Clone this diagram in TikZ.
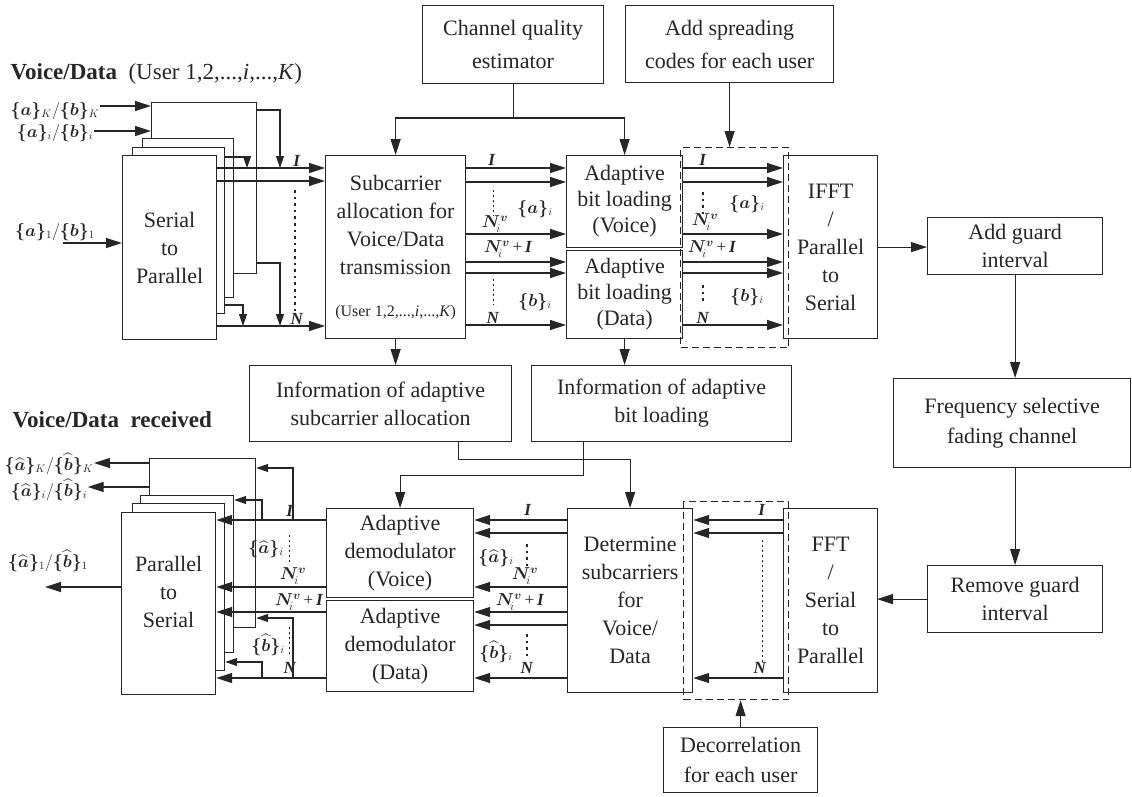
\documentclass[tikz,border=0pt]{standalone}
\usepackage{fontspec}
\setmainfont{Liberation Serif}
\usepackage{amsmath,bm}
\usetikzlibrary{arrows.meta}
\newcommand\bi[1]{\textbf{\textit{#1}}}
\newcommand\lAB[1]{$\bm{\{a\}}_{#1}/\bm{\{b\}}_{#1}$}
\newcommand\lHH[1]{$\bm{\{\widehat{a}\}}_{#1}/\bm{\{\widehat{b}\}}_{#1}$}
\newcommand\Nvi{$\bm{N}_{\!i}^{\bm{v}}$}
\newcommand\Nvp{$\bm{N}_{\!i}^{\bm{v}}$\,+\,\bi{I}}
\newcommand\la{$\bm{\{a\}}_i$}
\newcommand\lb{$\bm{\{b\}}_i$}
\newcommand\lha{$\bm{\{\widehat{a}\}}_i$}
\newcommand\lhb{$\bm{\{\widehat{b}\}}_i$}
\begin{document}
\begin{tikzpicture}[x=1pt,y=-1pt,line width=1.2pt,black!85,
  box/.style={draw, fill=white, anchor=north west, inner sep=0pt, align=center, font=\fontsize{22}{28}\selectfont},
  wh/.style 2 args={minimum width=#1pt, minimum height=#2pt},
  dbox/.style={draw, dash pattern=on 7pt off 4pt, anchor=north west, inner sep=0pt},
  arr/.style={-{Triangle[length=16pt,width=10pt]}},
  sarr/.style={-{Triangle[length=12pt,width=8pt]}},
  lab/.style={font=\fontsize{17}{19}\selectfont, inner sep=0pt},
  slab/.style={font=\fontsize{16}{18}\selectfont, inner sep=0pt},
  thdots/.style={line width=2.6pt, dash pattern=on 2.6pt off 4pt},
  fdots/.style={line width=1pt, dash pattern=on 2pt off 3pt}]
\useasboundingbox (0,0) rectangle (1132,796);

% ---------- top row ----------
\node[box,wh={181}{78},font=\fontsize{22}{33}\selectfont] (cqe) at (422,5) {Channel quality\\estimator};
\node[box,wh={208}{77},font=\fontsize{22}{33}\selectfont] (asc) at (625,5) {Add spreading\\codes for each user};
\node[anchor=base west, inner sep=0pt, font=\fontsize{23}{26}\selectfont] (t1) at (10,79) {\textbf{Voice/Data}\ \ (User 1,2,...,\textit{i},...,\textit{K})};

% serial to parallel stack
\node[box,wh={105}{171}] (spK) at (151,102) {};
\node[box,wh={91}{159}] (spI) at (142,138) {};
\node[box,wh={92}{166}] (spB) at (132,147) {};
\node[box,wh={94}{184}] (sp) at (122,155) {Serial\\to\\Parallel};

\node[slab] (inK) at (55,111) {\lAB{K}};
\node[slab] (inI) at (55,133) {\lAB{i}};
\node[slab] (in1) at (55,232) {\lAB{1}};
\coordinate (in1s) at (63,243);
\draw[arr] (inK.east |- 0,106) -- (spK.west |- 0,106);
\draw[arr] (inI.east |- 0,131) -- (spK.west |- 0,131);
\draw[arr] (in1s) -- (in1s -| sp.west);

\node[box,wh={140}{183}] (sc) at (325,155) {Subcarrier\\allocation for\\Voice/Data\\transmission\\[14pt]{\fontsize{16}{18}\selectfont (User 1,2,...,\textit{i},...,\textit{K})}};
\node[box,wh={116}{92},font=\fontsize{22}{26}\selectfont] (abv) at (566,155) {Adaptive\\bit loading\\(Voice)};
\node[box,wh={116}{88},font=\fontsize{22}{26}\selectfont] (abd) at (566,250) {Adaptive\\bit loading\\(Data)};
\node[box,wh={94}{183}] (ifft) at (783,155) {IFFT\\/\\Parallel\\to\\Serial};
\node[dbox,wh={108}{200}] (tx) at (680,147) {};

\draw[sarr] (spK.east |- 0,110) -| (280,168);
\draw[sarr] (spB.east |- 0,157) -| (247,168);
\draw[sarr] (spB.east |- 0,305) -| (243,326);
\draw[sarr] (spK.east |- 0,263) -| (280,326);
\foreach \y in {168,181,326} \draw[arr] (sp.east |- 0,\y) -- (sc.west |- 0,\y);
\draw[thdots] (295,190) -- (295,312);
\node[lab] at (297,161) {\bi{I}};
\node[lab] at (297,319) {\bi{N}};

\foreach \y in {168,182,234} \draw[arr] (sc.east |- 0,\y) -- (abv.west |- 0,\y);
\foreach \y in {262,273,325} \draw[arr] (sc.east |- 0,\y) -- (abd.west |- 0,\y);
\draw[fdots] (493,190) -- (493,216);
\draw[fdots] (493,279) -- (493,305);
\node[lab] at (492,160) {\bi{I}};
\node[slab] at (535,209) {\la};
\node[lab] at (495,224) {\Nvi};
\node[lab] at (508,249) {\Nvp};
\node[slab] at (535,302) {\lb};
\node[lab] at (493,318) {\bi{N}};

\foreach \y in {168,182,234} \draw[arr] (abv.east |- 0,\y) -- (ifft.west |- 0,\y);
\foreach \y in {262,273,325} \draw[arr] (abd.east |- 0,\y) -- (ifft.west |- 0,\y);
\draw[thdots] (703,192) -- (703,214);
\draw[thdots] (703,285) -- (703,304);
\node[lab] at (703,160) {\bi{I}};
\node[slab] at (747,204) {\la};
\node[lab] at (705,222) {\Nvi};
\node[lab] at (712,249) {\Nvp};
\node[slab] at (747,297) {\lb};
\node[lab] at (703,318) {\bi{N}};

\coordinate (cj) at (cqe.south |- 0,118);
\draw (cqe.south) -- (cj);
\draw[arr] (cj) -| (sc.north);
\draw[arr] (cj) -| (abv.north);
\draw[arr] (asc.south) -- (asc.south |- tx.north);

% ---------- right column ----------
\node[box,wh={175}{57}] (ag) at (927,217) {Add guard\\interval};
\node[box,wh={237}{89},font=\fontsize{22}{30}\selectfont] (fr) at (893,378) {Frequency selective\\fading channel};
\node[box,wh={175}{67}] (rm) at (927,565) {Remove guard\\interval};
\draw[arr] (ifft.east) -- (ifft.east -| ag.west);
\draw[arr] (ag.south) -- (ag.south |- fr.north);
\draw[arr] (rm.north |- fr.south) -- (rm.north);
\draw[arr] (rm.west) -- (rm.west -| 877,0);

% ---------- info boxes ----------
\node[box,wh={262}{76}] (inf1) at (249,365) {Information of adaptive\\subcarrier allocation};
\node[box,wh={260}{76}] (inf2) at (531,365) {Information of adaptive\\bit loading};
\draw[arr] (sc.south) -- (sc.south |- inf1.north);
\draw[arr] (abd.south) -- (abd.south |- inf2.north);

% ---------- bottom row ----------
\node[box,wh={94}{184}] (fft) at (783,508) {FFT\\/\\Serial\\to\\Parallel};
\node[box,wh={125}{184}] (det) at (567,508) {Determine\\subcarriers\\for\\Voice/\\Data};
\node[dbox,wh={105}{198}] (rx) at (683,501) {};
\node[box,wh={154}{65},font=\fontsize{22}{30}\selectfont] (dec) at (663,727) {Decorrelation\\for each user};
\node[box,wh={147}{89}] (dv) at (326,508) {Adaptive\\demodulator\\(Voice)};
\node[box,wh={147}{91}] (dd) at (326,600) {Adaptive\\demodulator\\(Data)};
\draw[arr] (dec.north) -- (dec.north |- rx.south);

\draw[arr] ([xshift=78pt]inf1.south) -- ++(0,17) -| (det.north);
\draw[arr] ([xshift=-78pt]inf2.south) -- ++(0,33) -| (dv.north);

\foreach \y in {520,533,678} \draw[arr] (fft.west |- 0,\y) -- (det.east |- 0,\y);
\draw[fdots] (762,540) -- (762,665);
\node[lab] at (762,510) {\bi{I}};
\node[lab] at (760,668) {\bi{N}};

\foreach \y in {520,533,587} \draw[arr] (det.west |- 0,\y) -- (dv.east |- 0,\y);
\foreach \y in {612,625,678} \draw[arr] (det.west |- 0,\y) -- (dd.east |- 0,\y);
\draw[thdots] (527,544) -- (527,569);
\draw[thdots] (527,634) -- (527,660);
\node[lab] at (528,510) {\bi{I}};
\node[slab] at (496,558) {\lha};
\node[lab] at (525,576) {\Nvi};
\node[lab] at (520,602) {\Nvp};
\node[slab] at (496,652) {\lhb};
\node[lab] at (527,668) {\bi{N}};

% parallel to serial stack
\node[box,wh={106}{169}] (psK) at (149,458) {};
\node[box,wh={93}{157}] (psI) at (140,495) {};
\node[box,wh={92}{167}] (psB) at (132,503) {};
\node[box,wh={94}{182}] (ps) at (121,512) {Parallel\\to\\Serial\\[-4pt]~};

\foreach \y in {520,587} \draw[arr] (dv.west |- 0,\y) -- (ps.east |- 0,\y);
\foreach \y in {612,678} \draw[arr] (dd.west |- 0,\y) -- (ps.east |- 0,\y);
\draw[sarr] (293,520) |- (psK.east |- 0,468);
\draw[sarr] (262,520) |- (psI.east |- 0,500);
\draw[sarr] (293,678) |- (psK.east |- 0,618);
\draw[sarr] (262,678) |- (psB.east |- 0,662);
\draw[fdots] (289,535) -- (289,562);
\draw[fdots] (289,627) -- (289,656);
\node[lab] at (290,511) {\bi{I}};
\node[slab] at (266,549) {\lha};
\node[lab] at (293,576) {\Nvi};
\node[lab] at (299,602) {\Nvp};
\node[slab] at (268,645) {\lhb};
\node[lab] at (290,668) {\bi{N}};

\node[anchor=base west, inner sep=0pt, font=\fontsize{23}{26}\selectfont\bfseries] (t2) at (12,427) {Voice/Data\ \ received};
\node[slab] (oK) at (49,464) {\lHH{K}};
\node[slab] (oI) at (49,490) {\lHH{i}};
\node[slab] (o1) at (48,561) {\lHH{1}};
\coordinate (o1e) at (45,587);
\draw[arr] (psK.west |- 0,463) -- (oK.east |- 0,463);
\draw[arr] (psK.west |- 0,487) -- (oI.east |- 0,487);
\draw[arr] (ps.west |- 0,587) -- (o1e);
\end{tikzpicture}
\end{document}
